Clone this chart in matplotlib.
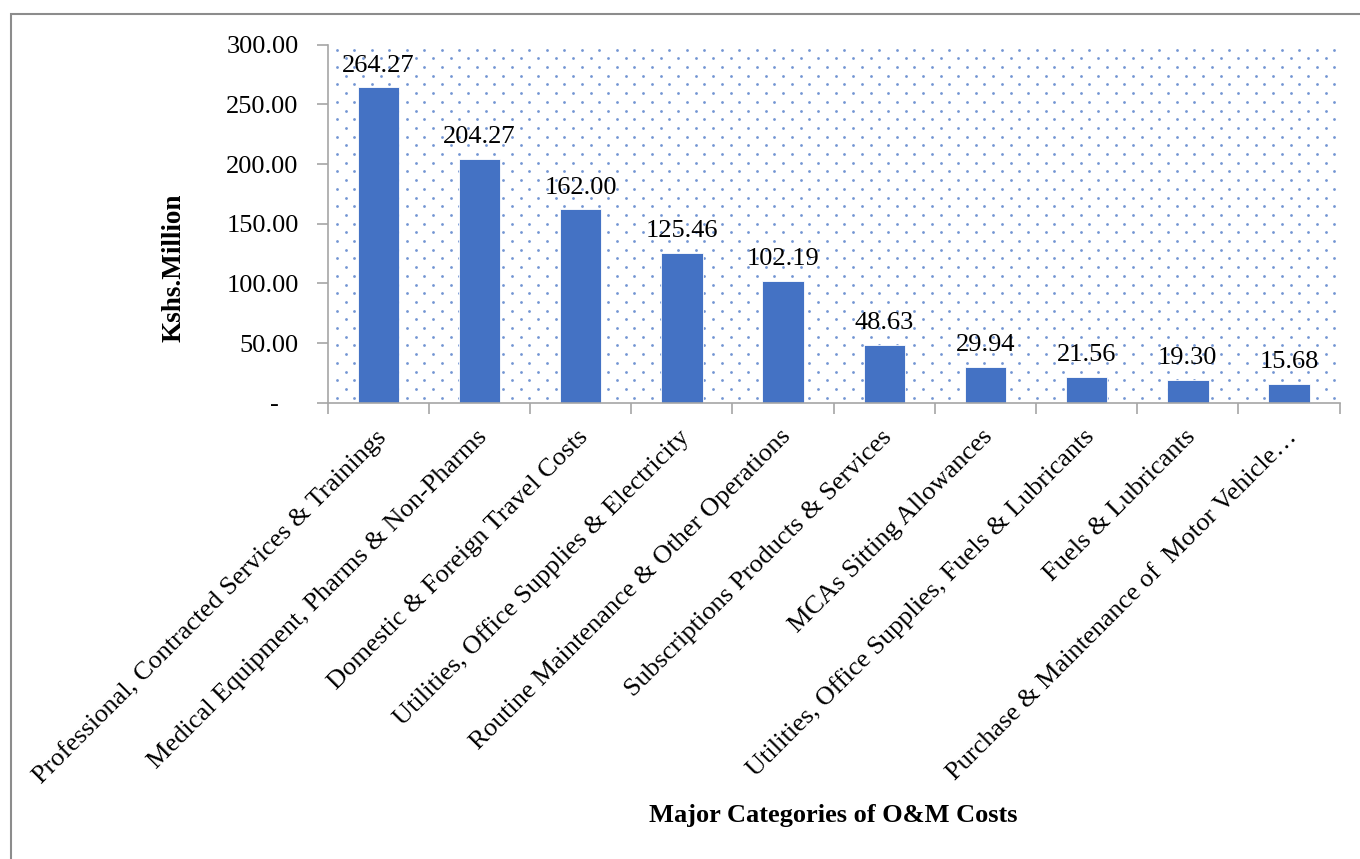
import matplotlib
matplotlib.use("Agg")
import matplotlib.pyplot as plt
import numpy as np
from matplotlib.patches import Rectangle
from matplotlib.ticker import FuncFormatter

categories = [
    "Professional, Contracted Services & Trainings",
    "Medical Equipment, Pharms & Non-Pharms",
    "Domestic & Foreign Travel Costs",
    "Utilities, Office Supplies & Electricity",
    "Routine Maintenance & Other Operations",
    "Subscriptions Products & Services",
    "MCAs Sitting Allowances",
    "Utilities, Office Supplies, Fuels & Lubricants",
    "Fuels & Lubricants",
    "Purchase & Maintenance of  Motor Vehicle\u2026",
]
values = [264.27, 204.27, 162.00, 125.46, 102.19, 48.63, 29.94, 21.56, 19.30, 15.68]
y_ticks = [0, 50, 100, 150, 200, 250, 300]

blue = "#4472C4"
gray = "#A6A6A6"
plt.rcParams["font.family"] = ["Liberation Serif", "DejaVu Serif"]

fig = plt.figure(figsize=(13.6, 8.59), dpi=100)
ax = fig.add_axes([0.241, 0.531, 0.744, 0.417])

# dotted background pattern (drawn as a grid of small dots)
W, H = 0.744 * 1360, 0.417 * 859
dx, dy = 17.5, 8.7
pts = []
for r, yy in enumerate(np.arange(H - 5, 0, -dy)):
    off = 9 if r % 2 == 0 else 9 + dx / 2
    for xx in np.arange(off, W, dx):
        pts.append((xx / W, yy / H))
pts = np.array(pts)
ax.scatter(pts[:, 0], pts[:, 1], s=4, color=blue, alpha=0.75, lw=0,
           transform=ax.transAxes, zorder=0)

x = np.arange(len(categories))
bars = ax.bar(x, values, width=0.41, color=blue, edgecolor="white", linewidth=0.6, zorder=2)
for xi, v in zip(x, values):
    ax.text(xi, v + 9, f"{v:.2f}", ha="center", va="bottom", fontsize=19, zorder=3)

ax.set_xlim(-0.5, len(categories) - 0.5)
ax.set_ylim(0, 300)
ax.set_yticks(y_ticks)
# accounting style: zero shown as a dash
ax.yaxis.set_major_formatter(FuncFormatter(lambda v, p: "-\u00a0\u00a0\u00a0" if v == 0 else f"{v:.2f}"))
ax.set_xticks(np.arange(-0.5, len(categories), 1.0))
ax.set_xticklabels([])
ax.tick_params(axis="y", labelsize=19, length=8, color=gray, width=1.2, pad=13)
ax.tick_params(axis="x", length=8, color=gray, width=1.2)
for xi, lab in zip(x, categories):
    ax.annotate(lab, xy=(xi, 0), xycoords=("data", "axes fraction"),
                xytext=(3, -22), textcoords="offset points",
                rotation=45, ha="right", va="center", rotation_mode="anchor",
                fontsize=19)

for s in ["top", "right"]:
    ax.spines[s].set_visible(False)
for s in ["left", "bottom"]:
    ax.spines[s].set_color(gray)
    ax.spines[s].set_linewidth(1.2)

fig.text(0.128, 0.688, "Kshs.Million", rotation=90, ha="center", va="center",
         fontsize=19.5, fontweight="bold")
fig.text(0.613, 0.051, "Major Categories of O&M Costs", ha="center", va="center",
         fontsize=19, fontweight="bold")

fig.add_artist(Rectangle((11 / 1360, -0.1), 1.2, 1.1 - 14 / 859, fill=False,
                         edgecolor="#8C8C8C", linewidth=1.5, transform=fig.transFigure))

fig.savefig("out.png", dpi=100)
